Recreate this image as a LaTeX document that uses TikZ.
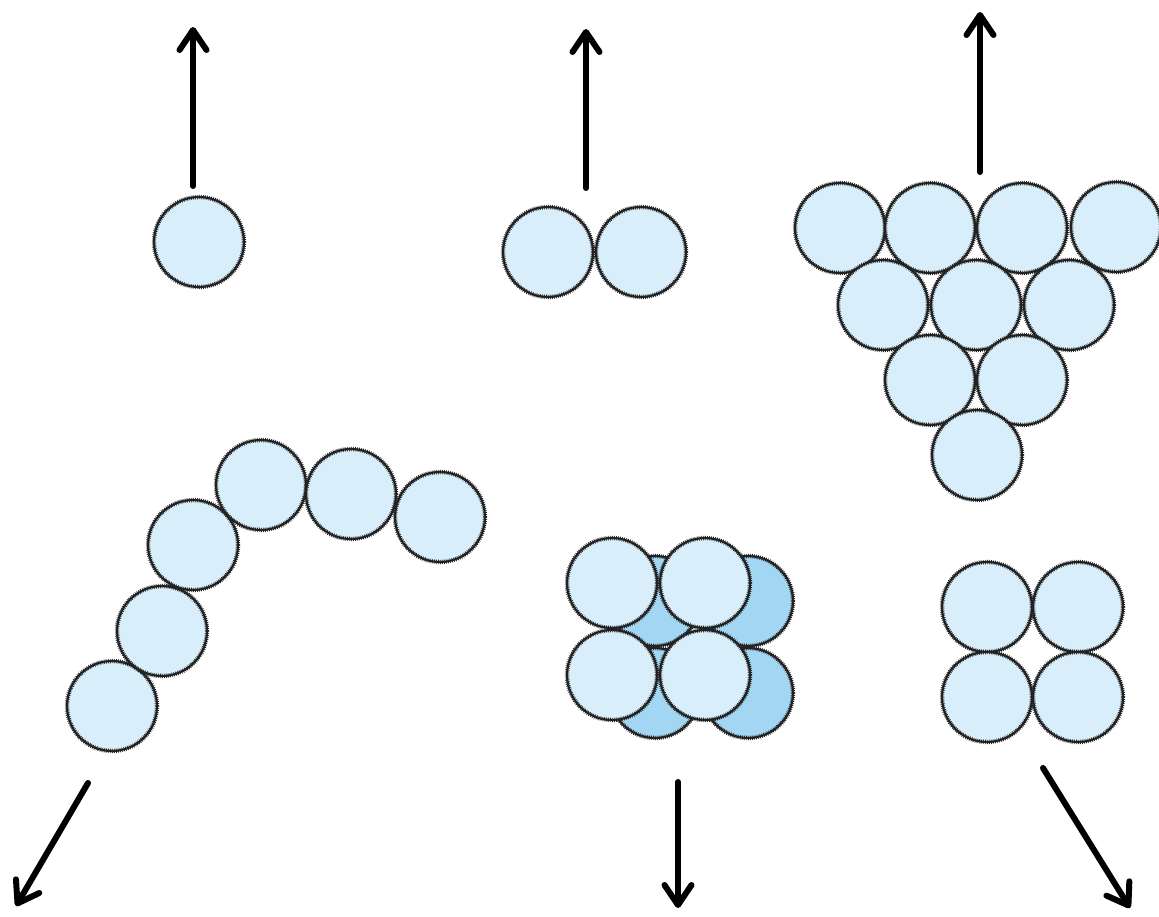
\documentclass[tikz,border=0pt]{standalone}
\usetikzlibrary{arrows.meta}
\definecolor{ballfill}{HTML}{D8EEFA}
\definecolor{backfill}{HTML}{A3D6F2}
\definecolor{rim}{HTML}{222222}
\tikzset{
  ball/.style={circle, minimum size=90pt, inner sep=0pt, fill=ballfill, draw=rim, line width=2.2pt,
    postaction={draw=rim, line width=4.4pt, dash pattern=on 0.7pt off 1.3pt}},
  backball/.style={ball, fill=backfill},
  bigarrow/.style={line width=6pt, line cap=round, -{Straight Barb[length=20pt,width=27pt,line cap=round,line join=round]}},
}
\begin{document}
\begin{tikzpicture}[x=1pt,y=-1pt]
\useasboundingbox (0,0) rectangle (1159,916);
% single
\node[ball] (s1) at (199,242) {};
\coordinate (a1s) at (193,186); \coordinate (a1e) at (193,27);
\draw[bigarrow] (a1s) -- (a1e);
% pair
\node[ball] (p1) at (548,252) {};
\node[ball] (p2) at (641,252) {};
\coordinate (a2s) at (586,188); \coordinate (a2e) at (586,29);
\draw[bigarrow] (a2s) -- (a2e);
% triangle
\node[ball] (t1) at (840,228) {};
\node[ball] (t2) at (930,228) {};
\node[ball] (t3) at (1022,228) {};
\node[ball] (t4) at (1116,227) {};
\node[ball] (t5) at (883,305) {};
\node[ball] (t6) at (976,305) {};
\node[ball] (t7) at (1069,305) {};
\node[ball] (t8) at (930,380) {};
\node[ball] (t9) at (1022,380) {};
\node[ball] (t10) at (977,455) {};
\coordinate (a3s) at (980,172); \coordinate (a3e) at (980,12);
\draw[bigarrow] (a3s) -- (a3e);
% chain
\node[ball] (c1) at (112,706) {};
\node[ball] (c2) at (162,631) {};
\node[ball] (c3) at (193,545) {};
\node[ball] (c4) at (261,485) {};
\node[ball] (c5) at (351,494) {};
\node[ball] (c6) at (440,517) {};
\coordinate (a4s) at (88,783); \coordinate (a4e) at (16,906);
\draw[bigarrow] (a4s) -- (a4e);
% cube
\node[backball] (k5) at (655,601) {};
\node[backball] (k6) at (748,601) {};
\node[backball] (k7) at (655,693) {};
\node[backball] (k8) at (748,693) {};
\node[ball] (k1) at (612,583) {};
\node[ball] (k2) at (705,583) {};
\node[ball] (k3) at (612,675) {};
\node[ball] (k4) at (705,675) {};
\coordinate (a5s) at (678,782); \coordinate (a5e) at (678,908);
\draw[bigarrow] (a5s) -- (a5e);
% square
\node[ball] (q1) at (987,607) {};
\node[ball] (q2) at (1078,607) {};
\node[ball] (q3) at (987,697) {};
\node[ball] (q4) at (1078,697) {};
\coordinate (a6s) at (1043,768); \coordinate (a6e) at (1130,908);
\draw[bigarrow] (a6s) -- (a6e);
\end{tikzpicture}
\end{document}
